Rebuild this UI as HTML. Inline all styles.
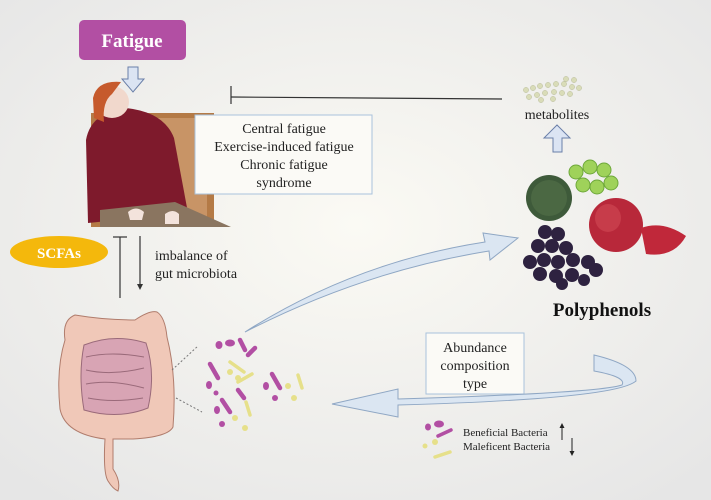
<!DOCTYPE html>
<html><head><meta charset="utf-8"><style>
html,body{margin:0;padding:0;width:711px;height:500px;overflow:hidden;background:#f3f2ee}
svg{display:block}
text{font-family:"Liberation Serif",serif}
</style></head><body>
<svg width="711" height="500" viewBox="0 0 711 500">
<defs>
<radialGradient id="bg" cx="50%" cy="45%" r="70%">
<stop offset="0" stop-color="#fbfaf4"/><stop offset="1" stop-color="#e6e6e6"/></radialGradient>
</defs>
<rect width="711" height="500" fill="url(#bg)"/>
<!-- Fatigue box -->
<rect x="79" y="20" width="107" height="40" rx="5" fill="#b24fa3"/>
<text x="132" y="47" text-anchor="middle" font-size="19" font-weight="bold" fill="#fff">Fatigue</text>
<!-- down hollow arrow -->
<path d="M128 67 h10 v12 h6 l-11 13 l-11 -13 h6 z" fill="#dbe4f3" stroke="#6a7fa8" stroke-width="1"/>
<!-- woman -->
<rect x="91" y="113" width="123" height="114" fill="#b47a46"/>
<rect x="97" y="118" width="110" height="100" fill="#c89466"/>
<path d="M86 140 q5 -28 40 -32 q38 4 48 30 l14 75 l-100 10 z" fill="#7e1a2c"/>
<path d="M100 210 l75 -8 l56 25 l-131 0 z" fill="#8a7560"/>
<ellipse cx="112" cy="102" rx="17" ry="16" fill="#f1d8cc"/>
<path d="M93 98 q4 -18 28 -16 l-9 12 q-10 8 -8 28 l-10 -4 z" fill="#c65a2c"/>
<path d="M128 212 q8 -7 16 0 l-2 8 h-12 z M165 214 q8 -6 14 0 l0 10 h-14 z" fill="#f3e3dc"/>
<!-- text box -->
<rect x="195" y="115" width="177" height="79" fill="#fbfaf6" stroke="#a9c2dc" stroke-width="1"/>
<g font-size="14" fill="#222" text-anchor="middle">
<text x="284" y="133">Central fatigue</text>
<text x="284" y="151">Exercise-induced fatigue</text>
<text x="284" y="169">Chronic fatigue</text>
<text x="284" y="187">syndrome</text>
</g>
<!-- inhibition line -->
<line x1="231" y1="97" x2="502" y2="99" stroke="#333" stroke-width="1.2"/>
<line x1="231" y1="86" x2="231" y2="104" stroke="#333" stroke-width="1.2"/>
<!-- metabolites dots -->
<g fill="#d9dcb8" stroke="#b8bb98" stroke-width="0.5">
<circle cx="526" cy="90" r="2.6"/><circle cx="533" cy="88" r="2.6"/><circle cx="540" cy="86" r="2.6"/><circle cx="548" cy="85" r="2.6"/><circle cx="556" cy="84" r="2.6"/><circle cx="564" cy="84" r="2.6"/><circle cx="572" cy="87" r="2.6"/><circle cx="566" cy="79" r="2.6"/><circle cx="574" cy="80" r="2.6"/><circle cx="579" cy="88" r="2.6"/><circle cx="529" cy="97" r="2.6"/><circle cx="537" cy="95" r="2.6"/><circle cx="545" cy="93" r="2.6"/><circle cx="554" cy="92" r="2.6"/><circle cx="562" cy="93" r="2.6"/><circle cx="570" cy="94" r="2.6"/><circle cx="541" cy="100" r="2.6"/><circle cx="553" cy="99" r="2.6"/>
</g>
<text x="557" y="119" text-anchor="middle" font-size="14" fill="#222">metabolites</text>
<path d="M553 152 h9 v-14 h8 l-13 -13 l-13 13 h9 z" fill="#dbe4f3" stroke="#6a7fa8" stroke-width="1"/>
<!-- fruits -->
<circle cx="549" cy="198" r="23" fill="#3e5a3a"/>
<circle cx="549" cy="198" r="18" fill="#55724a" opacity="0.6"/>
<g fill="#9fd25a" stroke="#6ea83a" stroke-width="1">
<circle cx="576" cy="172" r="7"/><circle cx="590" cy="167" r="7"/><circle cx="604" cy="170" r="7"/><circle cx="583" cy="185" r="7"/><circle cx="597" cy="187" r="7"/><circle cx="611" cy="183" r="7"/>
</g>
<circle cx="616" cy="225" r="27" fill="#b8283a"/>
<ellipse cx="608" cy="218" rx="13" ry="14" fill="#d04a55" opacity="0.6"/>
<path d="M641 228 q22 -8 45 8 q-12 22 -40 18 z" fill="#c0283a"/>
<g fill="#2e2240">
<circle cx="545" cy="232" r="7"/><circle cx="558" cy="234" r="7"/><circle cx="538" cy="246" r="7"/><circle cx="552" cy="246" r="7"/><circle cx="566" cy="248" r="7"/><circle cx="530" cy="262" r="7"/><circle cx="544" cy="260" r="7"/><circle cx="558" cy="262" r="7"/><circle cx="573" cy="260" r="7"/><circle cx="588" cy="262" r="7"/><circle cx="540" cy="274" r="7"/><circle cx="556" cy="276" r="7"/><circle cx="572" cy="275" r="7"/><circle cx="596" cy="270" r="7"/><circle cx="584" cy="280" r="6"/><circle cx="562" cy="284" r="6"/>
</g>
<text x="602" y="316" text-anchor="middle" font-size="19" font-weight="bold" fill="#111">Polyphenols</text>
<!-- SCFAs -->
<ellipse cx="59" cy="252" rx="49" ry="16" fill="#f4b80c"/>
<text x="59" y="258" text-anchor="middle" font-size="15" font-weight="bold" fill="#fff">SCFAs</text>
<line x1="120" y1="237" x2="120" y2="298" stroke="#333" stroke-width="1.2"/>
<line x1="113" y1="237" x2="127" y2="237" stroke="#333" stroke-width="1.2"/>
<line x1="140" y1="236" x2="140" y2="286" stroke="#333" stroke-width="1.2"/>
<path d="M137 284 l3 6 l3 -6 z" fill="#333"/>
<text x="155" y="260" font-size="14" fill="#222">imbalance of</text>
<text x="155" y="278" font-size="14" fill="#222">gut microbiota</text>
<!-- intestine -->
<path d="M65 340 q-3 -20 10 -25 q30 5 60 5 q15 -10 22 -8 q8 5 10 25 q10 40 6 90 q-5 10 -40 12 q-15 0 -20 0 l-0 30 q8 12 5 22 q-5 -2 -10 -10 q-5 -8 -3 -42 q-40 -5 -45 -30 q-4 -40 5 -69 z" fill="#f0c8b8" stroke="#b07c6c" stroke-width="1"/>
<path d="M84 345 q30 -12 62 -2 q10 30 2 65 q-30 12 -64 2 q-6 -35 0 -65 z" fill="#d8a4b4" stroke="#9a6a7a" stroke-width="1"/>
<path d="M86 357 q25 -6 58 0 M86 370 q25 6 58 -2 M86 384 q25 -5 58 4 M88 398 q25 5 55 0" stroke="#9a6a7a" fill="none"/>
<line x1="172" y1="370" x2="198" y2="346" stroke="#777" stroke-dasharray="2 2"/>
<line x1="176" y1="398" x2="202" y2="412" stroke="#777" stroke-dasharray="2 2"/>
<!-- bacteria cluster -->
<g stroke-linecap="round">
<g stroke="#b24fa3" stroke-width="4.5">
<line x1="240" y1="340" x2="245" y2="350"/><line x1="210" y1="364" x2="218" y2="378"/><line x1="248" y1="355" x2="255" y2="348"/><line x1="272" y1="374" x2="280" y2="388"/><line x1="222" y1="400" x2="230" y2="412"/><line x1="238" y1="390" x2="244" y2="398"/>
</g>
<g fill="#b24fa3"><ellipse cx="219" cy="345" rx="3.5" ry="4"/><ellipse cx="230" cy="343" rx="5" ry="3.5"/><ellipse cx="209" cy="385" rx="3" ry="4"/><ellipse cx="266" cy="386" rx="3" ry="4"/><ellipse cx="217" cy="410" rx="3" ry="4"/><circle cx="222" cy="424" r="3"/><circle cx="275" cy="398" r="3"/><circle cx="216" cy="393" r="2.5"/></g>
<g stroke="#e6e08a" stroke-width="3.5">
<line x1="230" y1="362" x2="244" y2="372"/><line x1="238" y1="382" x2="252" y2="374"/><line x1="298" y1="375" x2="302" y2="388"/><line x1="246" y1="402" x2="250" y2="415"/>
</g>
<g fill="#e6e08a"><circle cx="238" cy="378" r="3"/><circle cx="288" cy="386" r="3"/><circle cx="294" cy="398" r="3"/><circle cx="235" cy="418" r="3"/><circle cx="245" cy="428" r="3"/><circle cx="230" cy="372" r="3"/></g>
</g>
<!-- curved arrow up -->
<path d="M245 332 q110 -70 240 -90 l-2 -9 l35 5 l-28 22 l-1 -9 q-125 20 -244 81 z" fill="#dbe6f2" stroke="#8fa7c4" stroke-width="1"/>
<!-- abundance box -->
<rect x="426" y="333" width="98" height="61" fill="#fbfaf6" stroke="#a9c2dc" stroke-width="1"/>
<g font-size="14" fill="#222" text-anchor="middle">
<text x="475" y="352">Abundance</text>
<text x="475" y="370">composition</text>
<text x="475" y="388">type</text>
</g>
<!-- big curved arrow -->
<path d="M594 355 q42 10 42 26 q-20 18 -238 24 l0 12 l-66 -13 l66 -15 l0 10 q200 -6 224 -14 q5 -8 -28 -14 z" fill="#dbe6f2" stroke="#8fa7c4" stroke-width="1"/>
<!-- legend -->
<g stroke-linecap="round">
<ellipse cx="428" cy="427" rx="3" ry="3.5" fill="#b24fa3"/><ellipse cx="439" cy="424" rx="5" ry="3.5" fill="#b24fa3"/>
<line x1="438" y1="436" x2="451" y2="430" stroke="#b24fa3" stroke-width="3.5"/>
<circle cx="425" cy="446" r="2.5" fill="#e6e08a"/><circle cx="435" cy="442" r="3" fill="#e6e08a"/>
<line x1="435" y1="457" x2="450" y2="452" stroke="#e6e08a" stroke-width="3.5"/>
</g>
<text x="463" y="436" font-size="11" fill="#222">Beneficial Bacteria</text>
<text x="463" y="450" font-size="11" fill="#222">Maleficent Bacteria</text>
<line x1="562" y1="424" x2="562" y2="440" stroke="#222"/><path d="M559.5 428 l2.5 -5 l2.5 5z" fill="#222"/>
<line x1="572" y1="438" x2="572" y2="455" stroke="#222"/><path d="M569.5 451 l2.5 5 l2.5 -5z" fill="#222"/>
</svg>
</body></html>
